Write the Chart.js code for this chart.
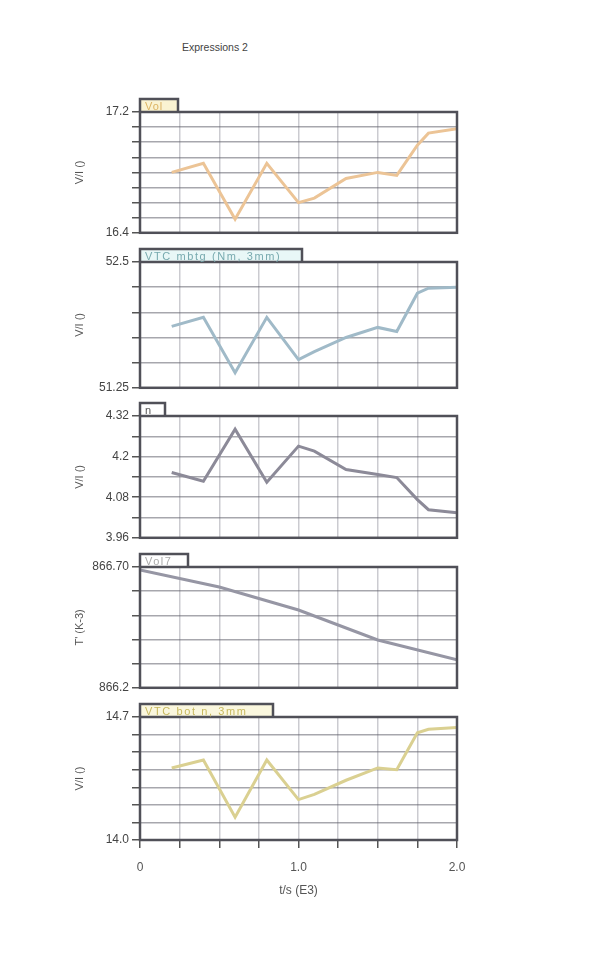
<!DOCTYPE html>
<html>
<head>
<meta charset="utf-8">
<script src="https://cdn.jsdelivr.net/npm/chart.js@4/dist/chart.umd.min.js"></script>
<style>
body{margin:0;background:#fff;width:615px;height:954px;position:relative;overflow:hidden;font-family:"Liberation Sans",Arial,sans-serif;}
#title{position:absolute;left:0;width:430px;top:41px;text-align:center;font-size:10.5px;color:#444;}
canvas{position:absolute;left:0;}
</style>
</head>
<body>
<div id="title">Expressions 2</div>
<canvas id="c1"></canvas>
<canvas id="c2"></canvas>
<canvas id="c3"></canvas>
<canvas id="c4"></canvas>
<canvas id="c5"></canvas>
<script>
// time axis (E3 s) shared by most traces
var tVals   = [0.2, 0.4, 0.6, 0.8, 1.0, 1.1, 1.3, 1.5, 1.62, 1.75, 1.82, 2.0];
var volVals = [16.80, 16.86, 16.49, 16.86, 16.60, 16.63, 16.76, 16.80, 16.78, 16.98, 17.06, 17.09];
var mbtgVals= [51.86, 51.95, 51.40, 51.95, 51.53, 51.61, 51.75, 51.85, 51.81, 52.19, 52.24, 52.25];
var nVals   = [4.153, 4.127, 4.281, 4.124, 4.231, 4.216, 4.162, 4.147, 4.138, 4.073, 4.043, 4.034];
var botVals = [14.41, 14.455, 14.13, 14.455, 14.23, 14.26, 14.34, 14.41, 14.40, 14.61, 14.63, 14.64];
// the temperature trace has its own sample times
var t7Vals  = [0, 0.5, 1.0, 1.5, 2.0];
var vol7Vals= [866.688, 866.617, 866.522, 866.398, 866.316];

var legendNames = ["Vol", "VTC mbtg (Nm, 3mm)", "n", "Vol7", "VTC bot n, 3mm"];
var yTitles     = ["V/I ()", "V/I ()", "V/I ()", "T' (K-3)", "V/I ()"];
var xTickVals   = [0, 1, 2];
var xTickText   = ["0", "1.0", "2.0"];

var TAB_SPACE = 22;
var PLOT_LEFT = 140, PLOT_RIGHT = 457;

function pts(xs, ys){
    var out = [];
    for(var i=0;i<xs.length;i++) out.push({x:xs[i], y:ys[i]});
    return out;
}
//********************************************** */
// frame round the plot area plus the legend tab sticking out above it
var framePlugin = {
    id: "frame",
    afterDraw: function(chart){
        var o = chart.options.plugins.frame;
        var a = chart.chartArea, ctx = chart.ctx;
        ctx.save();
        ctx.fillStyle = o.tabFill;
        ctx.fillRect(a.left, a.top - o.tabH, o.tabW, o.tabH);
        ctx.strokeStyle = "#505058";
        ctx.lineWidth = 2.5;
        ctx.strokeRect(a.left, a.top, a.right - a.left, a.bottom - a.top);
        ctx.beginPath();
        ctx.moveTo(a.left, a.top);
        ctx.lineTo(a.left, a.top - o.tabH);
        ctx.lineTo(a.left + o.tabW, a.top - o.tabH);
        ctx.lineTo(a.left + o.tabW, a.top);
        ctx.stroke();
        ctx.font = "11px 'Liberation Sans', Arial, sans-serif";
        ctx.fillStyle = o.textColor;
        ctx.textBaseline = "middle";
        if("letterSpacing" in ctx) ctx.letterSpacing = o.spacing + "px";
        ctx.fillText(o.text, a.left + 5, a.top - o.tabH/2 + 1);
        ctx.restore();
    }
};
//********************************************** */
function near(v, list){
    for(var i=0;i<list.length;i++){
        if(Math.abs(v - list[i]) < 1e-6) return i;
    }
    return -1;
}

function MakePanel(p){
    var bottomAxis = !!p.bottomAxis;
    var plotH = p.bottom - p.top;
    var xH = bottomAxis ? 62 : 0;
    var padB = bottomAxis ? 0 : 10;
    var cv = document.getElementById(p.id);
    cv.width = 615;
    cv.height = TAB_SPACE + plotH + xH + padB;
    cv.style.top = (p.top - TAB_SPACE) + "px";

    new Chart(cv, {
        type: "line",
        data: {
            datasets: [{
                label: p.legend,
                data: pts(p.xs, p.ys),
                borderColor: p.color,
                borderWidth: 3,
                pointRadius: 0,
                tension: 0,
                fill: false,
            }]
        },
        options: {
            responsive: false,
            animation: false,
            layout: {padding: {top: TAB_SPACE, left: 68, right: 615 - PLOT_RIGHT, bottom: padB}},
            plugins: {
                legend: {display: false},
                tooltip: {enabled: false},
                frame: {text: p.legend, tabW: p.tabW, tabH: 13, tabFill: p.tabFill, textColor: p.textColor, spacing: p.spacing},
            },
            scales: {
                x: {
                    type: "linear", min: 0, max: 2,
                    afterFit: function(s){ s.height = xH; },
                    grid: {
                        color: "rgba(140,140,150,0.45)", lineWidth: 1.5,
                        drawTicks: bottomAxis, tickLength: 8, tickColor: "#555", tickWidth: 1.5,
                    },
                    border: {display: false},
                    ticks: {
                        display: bottomAxis, stepSize: 0.25, autoSkip: false, maxRotation: 0,
                        padding: 12, color: "#555",
                        font: {family: "'Liberation Sans', Arial, sans-serif", size: 12},
                        callback: function(v){
                            var k = near(v, xTickVals);
                            return k < 0 ? "" : xTickText[k];
                        },
                    },
                    title: {
                        display: bottomAxis, text: "t/s (E3)", color: "#555",
                        font: {family: "'Liberation Sans', Arial, sans-serif", size: 12},
                        padding: {top: 2, bottom: 4},
                    },
                },
                y: {
                    min: p.yMin, max: p.yMax,
                    afterFit: function(s){ s.width = PLOT_LEFT - 68; },
                    grid: {
                        color: "rgba(95,95,105,0.55)", lineWidth: 1.5,
                        tickLength: 8, tickColor: "#555", tickWidth: 1.5,
                    },
                    border: {display: false},
                    ticks: {
                        stepSize: p.yStep, autoSkip: false, padding: 3, color: "#444",
                        font: {family: "'Liberation Sans', Arial, sans-serif", size: 12},
                        callback: function(v){
                            var k = near(v, p.yLabelVals);
                            return k < 0 ? "" : p.yLabelText[k];
                        },
                    },
                    title: {
                        display: true, text: p.yTitle, color: "#555",
                        font: {family: "'Liberation Sans', Arial, sans-serif", size: 11},
                        padding: {top: 5, bottom: 0},
                    },
                },
            },
        },
        plugins: [framePlugin],
    });
}
//********************************************** */
MakePanel({id:"c1", top:112, bottom:233, xs:tVals, ys:volVals,
    color:"rgb(236,196,150)", textColor:"rgb(220,180,100)", tabFill:"rgba(250,242,205,0.9)",
    legend:legendNames[0], tabW:38, spacing:1, yTitle:yTitles[0],
    yMin:16.4, yMax:17.2, yStep:0.1, yLabelVals:[16.4, 17.2], yLabelText:["16.4", "17.2"]});

MakePanel({id:"c2", top:262, bottom:388, xs:tVals, ys:mbtgVals,
    color:"rgb(160,186,200)", textColor:"rgb(120,170,175)", tabFill:"rgba(230,246,246,0.9)",
    legend:legendNames[1], tabW:162, spacing:1.6, yTitle:yTitles[1],
    yMin:51.25, yMax:52.5, yStep:0.25, yLabelVals:[51.25, 52.5], yLabelText:["51.25", "52.5"]});

MakePanel({id:"c3", top:416, bottom:538, xs:tVals, ys:nVals,
    color:"rgb(140,138,152)", textColor:"#555", tabFill:"#fff",
    legend:legendNames[2], tabW:25, spacing:1, yTitle:yTitles[2],
    yMin:3.96, yMax:4.32, yStep:0.06, yLabelVals:[3.96, 4.08, 4.2, 4.32], yLabelText:["3.96", "4.08", "4.2", "4.32"]});

MakePanel({id:"c4", top:567, bottom:688, xs:t7Vals, ys:vol7Vals,
    color:"rgb(150,150,164)", textColor:"#aaa", tabFill:"#fff",
    legend:legendNames[3], tabW:48, spacing:1.5, yTitle:yTitles[3],
    yMin:866.2, yMax:866.7, yStep:0.1, yLabelVals:[866.2, 866.7], yLabelText:["866.2", "866.70"]});

MakePanel({id:"c5", top:717, bottom:840, xs:tVals, ys:botVals, bottomAxis:true,
    color:"rgb(218,208,145)", textColor:"rgb(200,185,95)", tabFill:"rgba(250,246,218,0.9)",
    legend:legendNames[4], tabW:133, spacing:1.6, yTitle:yTitles[4],
    yMin:14.0, yMax:14.7, yStep:0.1, yLabelVals:[14.0, 14.7], yLabelText:["14.0", "14.7"]});
</script>
</body>
</html>
